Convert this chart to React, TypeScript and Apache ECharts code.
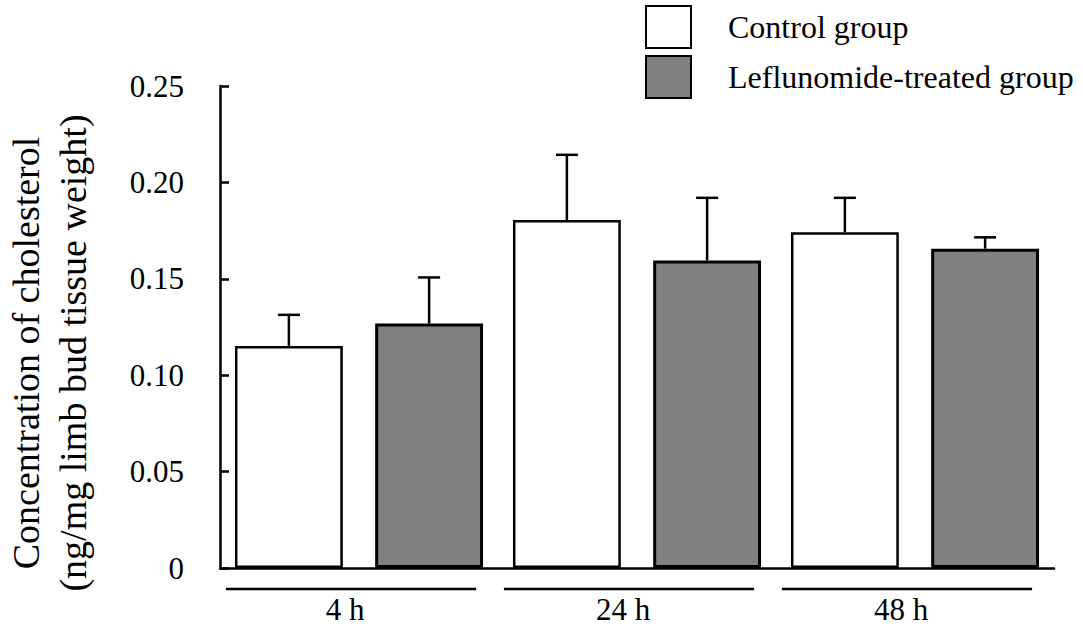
import React, { useEffect, useRef } from "react";
import * as echarts from "echarts";

const categories = ["4 h", "24 h", "48 h"];
const controlMean = [0.1152, 0.1805, 0.1741];
const controlErr = [0.0161, 0.0338, 0.0179];
const leflunomideMean = [0.1268, 0.1595, 0.1656];
const leflunomideErr = [0.0239, 0.0325, 0.0059];
const yTicks = { min: 0, max: 0.25, interval: 0.05 };
const seriesNames = ["Control group", "Leflunomide-treated group"];
const yTitle = "Concentration of cholesterol\n(ng/mg limb bud tissue weight)";

const FONT = "'Liberation Serif', 'Times New Roman', serif";
const BAR_FRAC = 0.388;
const BAR_GAP = 0.3;

export default function App() {
  const ref = useRef<HTMLDivElement>(null);
  useEffect(() => {
    if (!ref.current) return;
    const chart = echarts.init(ref.current, undefined, { renderer: "svg" });

    const errSeries = (means: number[], errs: number[], side: number) => ({
      type: "custom",
      silent: true,
      z: 5,
      data: means.map((m, i) => [i, m, m + errs[i]]),
      renderItem: (params: any, api: any) => {
        const idx = api.value(0);
        const band = api.size([1, 0])[0];
        const bw = band * BAR_FRAC;
        const off = (side * bw * (1 + BAR_GAP)) / 2;
        const p0 = api.coord([idx, api.value(1)]);
        const p1 = api.coord([idx, api.value(2)]);
        const x = p0[0] + off;
        const cap = 11;
        const style = { stroke: "#000", lineWidth: 2.5 };
        return {
          type: "group",
          children: [
            { type: "line", shape: { x1: x, y1: p0[1], x2: x, y2: p1[1] }, style },
            { type: "line", shape: { x1: x - cap, y1: p1[1], x2: x + cap, y2: p1[1] }, style },
          ],
        };
      },
    });

    const underline = {
      type: "custom",
      silent: true,
      clip: false,
      data: categories.map((_, i) => [i, 0]),
      renderItem: (params: any, api: any) => {
        const idx = api.value(0);
        const band = api.size([1, 0])[0];
        const p = api.coord([idx, 0]);
        const cx = p[0] - 8;
        const half = band * 0.45;
        return {
          type: "line",
          shape: { x1: cx - half, y1: p[1] + 21, x2: cx + half, y2: p[1] + 21 },
          style: { stroke: "#000", lineWidth: 2.5 },
        };
      },
    };

    chart.setOption({
      animation: false,
      backgroundColor: "#fff",
      textStyle: { fontFamily: FONT, color: "#000" },
      grid: { left: 220, right: 29, top: 86, bottom: 62, outerBoundsMode: "none", containLabel: false },
      graphic: [
        {
          type: "text",
          x: 49,
          y: 353,
          rotation: Math.PI / 2,
          style: {
            text: yTitle,
            fontFamily: FONT,
            fontSize: 38,
            lineHeight: 47,
            fill: "#000",
            align: "center",
            verticalAlign: "middle",
          },
        },
      ],
      legend: {
        orient: "vertical",
        left: 645,
        top: 5,
        padding: 0,
        itemWidth: 45,
        itemHeight: 42,
        itemGap: 6,
        icon: "rect",
        data: seriesNames,
        textStyle: { fontFamily: FONT, fontSize: 32, color: "#000", padding: [0, 0, 0, 32] },
      },
      xAxis: {
        type: "category",
        data: categories,
        axisLine: { lineStyle: { color: "#000", width: 2.5 } },
        axisTick: { show: false },
        axisLabel: {
          fontFamily: FONT,
          fontSize: 31,
          color: "#000",
          margin: 26,
          padding: [0, 28, 0, 0],
        },
      },
      yAxis: {
        type: "value",
        min: yTicks.min,
        max: yTicks.max,
        interval: yTicks.interval,
        axisLine: { show: true, lineStyle: { color: "#000", width: 2.5 } },
        axisTick: { show: true, inside: true, length: 9, lineStyle: { color: "#000", width: 2.5 } },
        splitLine: { show: false },
        axisLabel: {
          fontFamily: FONT,
          fontSize: 31,
          color: "#000",
          margin: 36,
          formatter: (v: number) => (v === 0 ? "0" : v.toFixed(2)),
        },
      },
      series: [
        {
          name: seriesNames[0],
          type: "bar",
          data: controlMean,
          barWidth: (BAR_FRAC * 100).toFixed(1) + "%",
          barGap: BAR_GAP * 100 + "%",
          itemStyle: { color: "#ffffff", borderColor: "#000", borderWidth: 2.5 },
        },
        {
          name: seriesNames[1],
          type: "bar",
          data: leflunomideMean,
          barWidth: (BAR_FRAC * 100).toFixed(1) + "%",
          barGap: BAR_GAP * 100 + "%",
          itemStyle: { color: "#808080", borderColor: "#000", borderWidth: 3 },
        },
        errSeries(controlMean, controlErr, -1),
        errSeries(leflunomideMean, leflunomideErr, 1),
        underline,
      ],
    });
    return () => chart.dispose();
  }, []);
  return (
    <div
      ref={ref}
      style={{ position: "fixed", left: 0, top: 0, width: 1083, height: 630 }}
    />
  );
}
